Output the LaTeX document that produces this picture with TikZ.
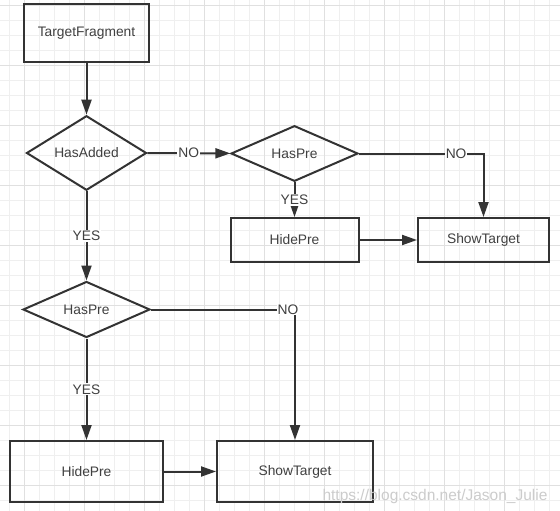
\documentclass[tikz,border=0pt]{standalone}
\usepackage{fontspec}
\setmainfont{Liberation Sans}
\usetikzlibrary{shapes.geometric, arrows.meta, positioning}
\definecolor{ink}{HTML}{333333}
\definecolor{txt}{HTML}{404040}
\definecolor{minorgrid}{HTML}{EFEFEF}
\definecolor{majorgrid}{HTML}{E0E0E0}
\tikzstyle{process} = [rectangle, draw=ink, line width=2pt, text=txt, inner sep=0]
\tikzstyle{decision} = [diamond, draw=ink, line width=2pt, text=txt, inner sep=0]
\tikzstyle{flow} = [draw=ink, line width=2pt, -{Triangle[length=15pt, width=10pt]}]
\tikzstyle{tag} = [fill=white, text=txt, inner sep=1pt]

\begin{document}
\begin{tikzpicture}[x=1pt, y=-1pt, font=\fontsize{13.8}{16}\selectfont]
					\clip (0, 0) rectangle (560, 511);
					\fill [white] (0, 0) rectangle (560, 511);

					% grid paper
					\draw [minorgrid, line width=1pt, step=15pt, shift={(9.3, 5.3)}] (-15, -15) grid (570, 520);
					\draw [majorgrid, line width=1pt, step=60pt, shift={(24.3, 5.3)}] (-60, -60) grid (600, 560);

					\node (Start) [process, minimum width=125, minimum height=58] at (86.5, 33) {TargetFragment};
					\node (HasAdded) [decision, minimum width=120, minimum height=71] at (86.5, 153) {HasAdded};
					\draw [flow] (Start) -- (HasAdded);

					% already added
					\node (HasPreA) [decision, minimum width=127, minimum height=55] at (294.5, 153.5) {HasPre};
					\draw [flow] (HasAdded) -- node [tag] {NO} (HasPreA);

					\node (HidePreA) [process, minimum width=128, minimum height=44] at (294.5, 240) {HidePre};
					\draw [flow] (HasPreA) -- node [tag] {YES} (HidePreA);

					\node (ShowA) [process, minimum width=131, minimum height=44] at (483.5, 240) {ShowTarget};
					\draw [flow] (HidePreA) -- (ShowA);
					\draw [flow] (HasPreA.east) -| node [tag, pos=0.39] {NO} (ShowA);

					% not added yet
					\node (HasPreB) [decision, minimum width=127, minimum height=56] at (86.5, 309.5) {HasPre};
					\draw [flow] (HasAdded) -- node [tag] {YES} (HasPreB);

					\node (HidePreB) [process, minimum width=153, minimum height=61] at (86.5, 471.5) {HidePre};
					\draw [flow] (HasPreB) -- node [tag] {YES} (HidePreB);

					\node (ShowB) [process, minimum width=156, minimum height=61] at (295, 471.5) {ShowTarget};
					\draw [flow] (HidePreB) -- (ShowB);
					\draw [flow] (HasPreB.east) -| node [tag, xshift=-7] {NO} (ShowB);

					\node (Mark) [text=black!20, font=\fontsize{15.5}{18}\selectfont] at (435, 496) {https://blog.csdn.net/Jason\_Julie};
				\end{tikzpicture}
\end{document}
